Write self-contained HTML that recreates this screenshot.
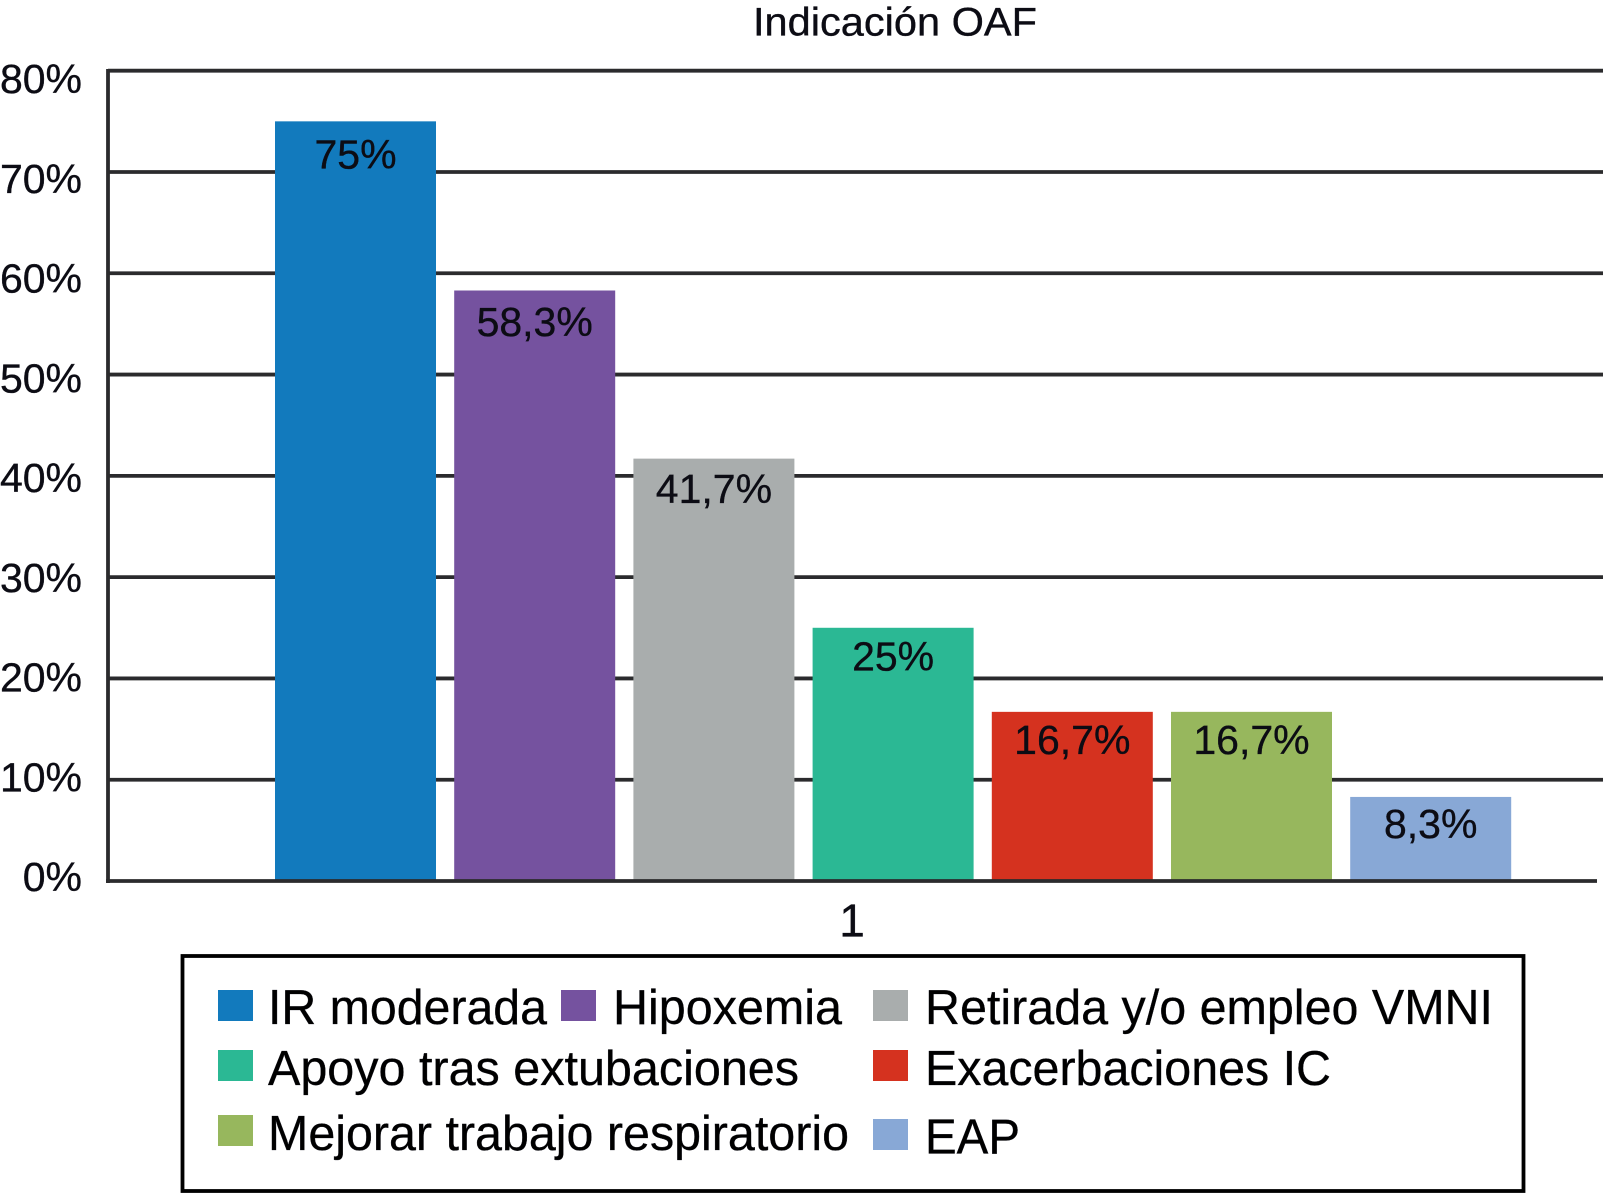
<!DOCTYPE html>
<html lang="es">
<head>
<meta charset="utf-8">
<title>Indicación OAF</title>
<style>
  html, body { margin: 0; padding: 0; background: #fff; }
  svg { display: block; font-family: "Liberation Sans", Arial, sans-serif; fill: #0c0c14; }
  text { stroke: #0c0c14; stroke-width: 0.35px; }
</style>
</head>
<body>
<svg id="chart" xmlns="http://www.w3.org/2000/svg" width="1603" height="1194" viewBox="0 0 1603 1194">
  <rect x="0" y="0" width="1603" height="1194" fill="#fff"/>
  <text x="753" y="35.5" font-size="40" textLength="284" lengthAdjust="spacingAndGlyphs">Indicación OAF</text>
  <g id="grid"></g>
  <g id="ticks"></g>
  <g id="bars"></g>
  <g id="values"></g>
  <line x1="108" y1="69" x2="108" y2="883" stroke="#2b2b2d" stroke-width="3.8"/>
  <line x1="106" y1="881" x2="1597" y2="881" stroke="#2b2b2d" stroke-width="3.8"/>
  <text x="852" y="936.5" font-size="46" text-anchor="middle">1</text>

  <g fill="#000">
    <rect x="182.5" y="956" width="1341" height="235" fill="#fff" stroke="#000" stroke-width="3.8"/>

    <rect x="218" y="990" width="35" height="31" fill="#127abd"/>
    <text x="268" y="1024" font-size="49" textLength="279" lengthAdjust="spacingAndGlyphs">IR moderada</text>

    <rect x="561" y="990" width="35" height="31" fill="#75529f"/>
    <text x="613" y="1024" font-size="49" textLength="229" lengthAdjust="spacingAndGlyphs">Hipoxemia</text>

    <rect x="873" y="990" width="35" height="31" fill="#a9adad"/>
    <text x="925" y="1024" font-size="49" textLength="568" lengthAdjust="spacingAndGlyphs">Retirada y/o empleo VMNI</text>

    <rect x="218" y="1050" width="35" height="31" fill="#2bb894"/>
    <text x="268" y="1085" font-size="49" textLength="531" lengthAdjust="spacingAndGlyphs">Apoyo tras extubaciones</text>

    <rect x="873" y="1050" width="35" height="31" fill="#d5321f"/>
    <text x="925" y="1085" font-size="49" textLength="406" lengthAdjust="spacingAndGlyphs">Exacerbaciones IC</text>

    <rect x="218" y="1115" width="35" height="31" fill="#97b75d"/>
    <text x="268" y="1150" font-size="49" textLength="581" lengthAdjust="spacingAndGlyphs">Mejorar trabajo respiratorio</text>

    <rect x="873" y="1119" width="35" height="31" fill="#88a8d6"/>
    <text x="925" y="1153.5" font-size="49" textLength="95" lengthAdjust="spacingAndGlyphs">EAP</text>
  </g>
</svg>
<script>
const categories = ["IR moderada", "Hipoxemia", "Retirada y/o empleo VMNI", "Apoyo tras extubaciones", "Exacerbaciones IC", "Mejorar trabajo respiratorio", "EAP"];
const seriesValues = [75, 58.3, 41.7, 25, 16.7, 16.7, 8.3];
const seriesColors = ["#127abd", "#75529f", "#a9adad", "#2bb894", "#d5321f", "#97b75d", "#88a8d6"];
const tickValues = [0, 10, 20, 30, 40, 50, 60, 70, 80];
const tickLabels = ["0%", "10%", "20%", "30%", "40%", "50%", "60%", "70%", "80%"];

const NS = "http://www.w3.org/2000/svg";
const plotBottom = 881, plotTop = 70.7, axisMax = 80;
const firstBarLeft = 275, barStep = 179.2, barWidth = 161;

function yScale(v) { return plotBottom - (v / axisMax) * (plotBottom - plotTop); }
function tickLabelY(v) { return 891 - (v / axisMax) * 798; }
function barX(i) { return firstBarLeft + i * barStep; }
function valueLabelY(v) { return yScale(v) + 40.5 + 0.09 * v; }
function formatValue(v) { return String(v).replace(".", ",") + "%"; }

const gridGroup = document.getElementById("grid");
const tickGroup = document.getElementById("ticks");
const barGroup = document.getElementById("bars");
const valueGroup = document.getElementById("values");

tickValues.forEach(function (t, i) {
  if (t > 0) {
    const line = document.createElementNS(NS, "line");
    
    
    line.setAttribute("x1", 108);
    line.setAttribute("x2", 1603);
    line.setAttribute("y1", yScale(t));
    line.setAttribute("y2", yScale(t));
    line.setAttribute("stroke", "#2b2b2d");
    line.setAttribute("stroke-width", 3.8);
    gridGroup.appendChild(line);
  }
  const label = document.createElementNS(NS, "text");
  
  
  label.setAttribute("x", 82);
  label.setAttribute("y", tickLabelY(t));
  label.setAttribute("font-size", 41);
  label.setAttribute("text-anchor", "end");
  label.textContent = tickLabels[i];
  tickGroup.appendChild(label);
});

seriesValues.forEach(function (v, i) {
  const bar = document.createElementNS(NS, "rect");
  
  
  bar.setAttribute("x", barX(i));
  bar.setAttribute("y", yScale(v));
  bar.setAttribute("width", barWidth);
  bar.setAttribute("height", plotBottom - yScale(v));
  bar.setAttribute("fill", seriesColors[i]);
  const tip = document.createElementNS(NS, "title");
  tip.textContent = categories[i];
  bar.appendChild(tip);
  barGroup.appendChild(bar);

  const text = document.createElementNS(NS, "text");
  
  
  text.setAttribute("x", barX(i) + barWidth / 2);
  text.setAttribute("y", valueLabelY(v));
  text.setAttribute("font-size", 41);
  text.setAttribute("text-anchor", "middle");
  text.textContent = formatValue(v);
  valueGroup.appendChild(text);
});
</script>
</body>
</html>
